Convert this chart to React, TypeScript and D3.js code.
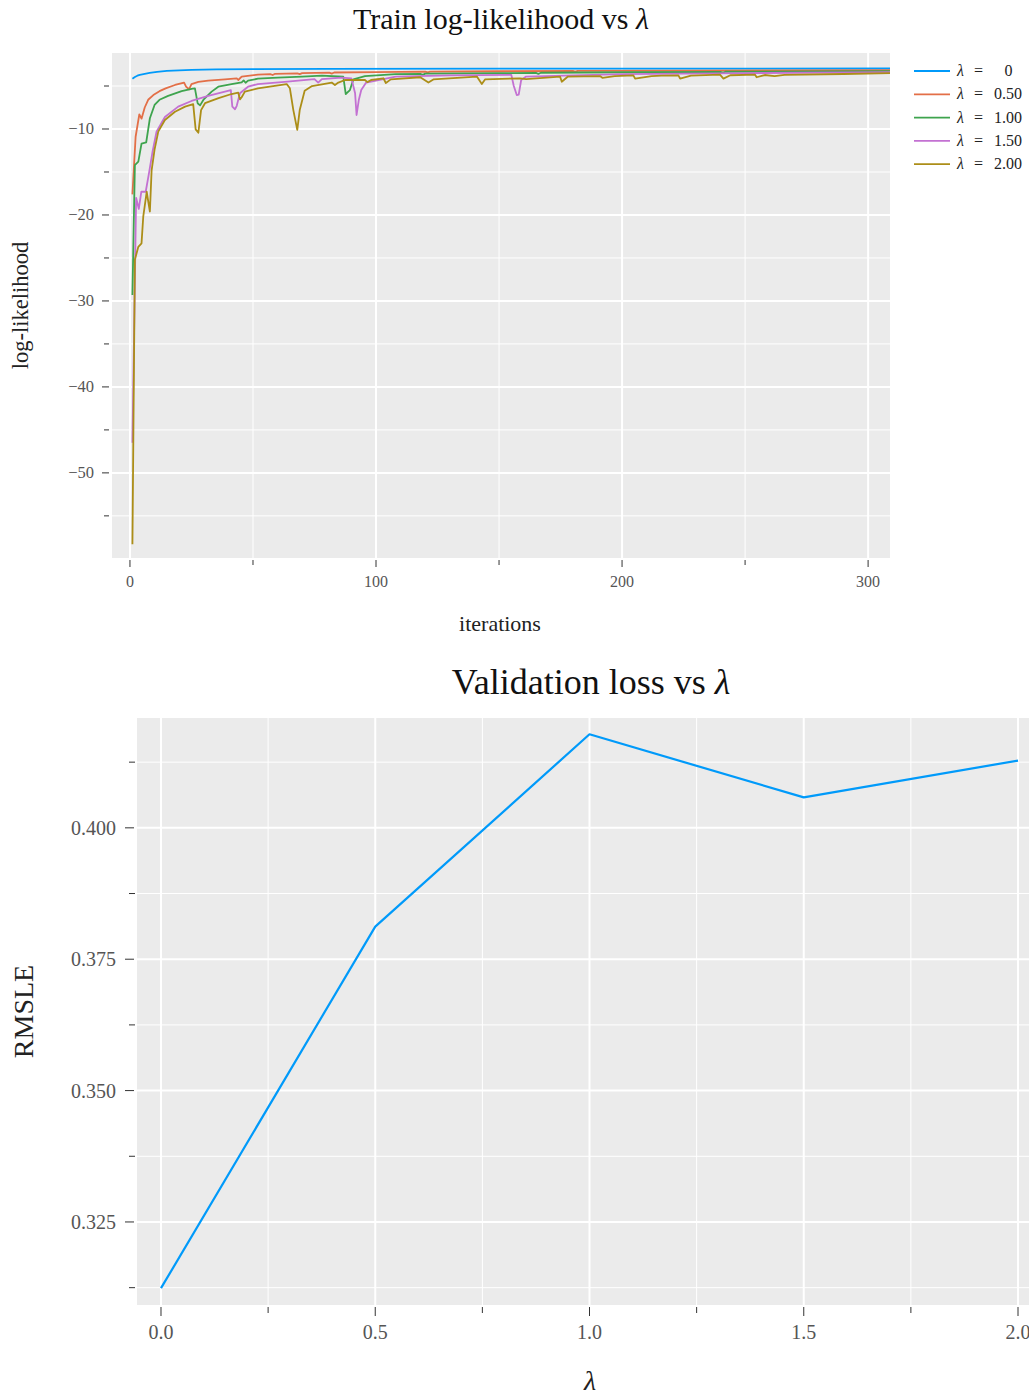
import React from "react";
import * as d3 from "d3";

// ---- Train log-likelihood per iteration, one vertex list per lambda ----
const trainLambda0: [number, number][] = [
  [1, -4.15], [2, -3.95], [3, -3.8], [4, -3.7], [6, -3.58], [8, -3.47], [11, -3.35],
  [15, -3.25], [20, -3.18], [25, -3.13], [35, -3.07], [50, -3.03], [80, -3.0],
  [150, -2.98], [309, -2.96],
];

const trainLambda050: [number, number][] = [
  [1, -17.6], [2.3, -10.9], [3.8, -8.3], [4.7, -8.8], [6, -7.5], [7.4, -6.6], [9.5, -6.05],
  [12, -5.6], [14.5, -5.27], [18.3, -4.88], [22, -4.6], [22.8, -5.07], [24, -5.38],
  [25, -4.77], [27.8, -4.53], [31.8, -4.38], [38.6, -4.23], [43.4, -4.1], [44, -4.3],
  [45.4, -3.9], [52, -3.68], [57, -3.62], [58, -3.72], [59, -3.58], [68, -3.52],
  [69, -3.62], [70, -3.5], [81, -3.45], [82, -3.56], [83, -3.43], [100, -3.38],
  [120, -3.33], [121, -3.42], [122, -3.32], [150, -3.28], [180, -3.24], [181, -3.33],
  [182, -3.23], [230, -3.2], [260, -3.17], [309, -3.15],
];

const trainLambda100: [number, number][] = [
  [1, -29.3], [2, -14.2], [3.4, -13.8], [4.7, -11.7], [6.6, -11.55], [8.1, -8.75],
  [10, -7.2], [12, -6.6], [15.5, -6.15], [21, -5.6], [25.5, -5.3], [26.4, -5.27],
  [27.5, -7.0], [28.5, -7.25], [30, -6.55], [33.2, -5.65], [35.9, -5.08], [41.3, -4.78],
  [45.4, -4.57], [46.2, -4.35], [47, -4.62], [48, -4.38], [52, -4.15], [60, -4.03],
  [70, -3.9], [78, -3.78], [86.7, -3.92], [87.7, -5.93], [89.4, -5.47], [90.8, -4.23],
  [95.5, -3.85], [108, -3.62], [118, -3.58], [119, -3.7], [120, -3.56], [150, -3.5],
  [165, -3.47], [166, -3.58], [167, -3.46], [200, -3.4], [240, -3.35], [241, -3.44],
  [242, -3.34], [309, -3.27],
];

const trainLambda150: [number, number][] = [
  [1, -46.5], [2.5, -18.0], [3.6, -19.3], [4.6, -17.3], [6.4, -17.3], [7.7, -15.2],
  [9.2, -12.6], [10.8, -10.3], [14.2, -8.6], [19.6, -7.4], [25, -6.74], [31.8, -6.16],
  [38.6, -5.65], [41, -5.47], [41.6, -7.4], [42.7, -7.7], [43.4, -7.3], [44.7, -5.85],
  [48, -5.08], [52, -4.77], [64, -4.5], [75, -4.2], [76.5, -4.6], [78, -4.2], [86, -4.03],
  [90, -4.1], [91.5, -5.85], [92.1, -8.37], [93, -6.63], [94, -5.47], [96, -4.6],
  [108, -3.9], [130, -3.77], [155, -3.7], [156, -5.0], [157.2, -6.05], [158, -6.0],
  [159, -4.3], [161, -3.9], [200, -3.62], [250, -3.5], [309, -3.38],
];

const trainLambda200: [number, number][] = [
  [1, -58.3], [2, -25.2], [3.4, -23.7], [4.7, -23.3], [5.4, -20.2], [6.8, -17.3],
  [8.1, -19.6], [8.8, -14.8], [10, -12.4], [11.5, -10.3], [14.2, -8.95], [18.3, -8.0],
  [22.4, -7.4], [25.7, -7.1], [26.7, -10.04], [27.8, -10.43], [28.9, -7.8], [30.5, -7.0],
  [36, -6.4], [41.3, -5.93], [44, -5.77], [44.7, -6.55], [45.4, -6.3], [46.7, -5.65],
  [52, -5.27], [63.7, -4.77], [65, -5.27], [66.4, -7.8], [68, -10.1], [69, -7.8],
  [71, -5.55], [74, -5.0], [82, -4.6], [83.3, -4.88], [84.7, -4.6], [87.4, -4.3],
  [95.5, -4.3], [96.5, -4.55], [98, -4.3], [103, -4.1], [104, -4.65], [106, -4.23],
  [118, -3.98], [121.3, -4.6], [123.3, -4.23], [141, -3.9], [143, -4.77], [144.3, -4.23],
  [158.5, -4.1], [161, -4.2], [174.8, -3.9], [175.5, -4.5], [178, -3.9], [191, -3.84],
  [192, -4.05], [197, -3.84], [204.6, -3.76], [205.3, -4.14], [212, -3.85], [216, -3.8],
  [222.9, -3.76], [223.6, -4.14], [228, -3.8], [239.8, -3.67], [241.2, -4.14],
  [244, -3.75], [254, -3.67], [254.7, -3.98], [258, -3.72], [262, -3.85], [266, -3.7],
  [290, -3.6], [309, -3.5],
];

const trainSeries = [
  { label: "0", data: trainLambda0, color: "#009AFA" },
  { label: "0.50", data: trainLambda050, color: "#E36F47" },
  { label: "1.00", data: trainLambda100, color: "#3EA44E" },
  { label: "1.50", data: trainLambda150, color: "#C371D2" },
  { label: "2.00", data: trainLambda200, color: "#AC8E18" },
];

const trainXMajor = [0, 100, 200, 300];
const trainXMinor = [50, 150, 250];
const trainYMajor = [-10, -20, -30, -40, -50];
const trainYMinor = [-5, -15, -25, -35, -45, -55];

// ---- Validation RMSLE per lambda ----
const lambdas = [0, 0.5, 1.0, 1.5, 2.0];
const rmsle = [0.3124, 0.3812, 0.4178, 0.4058, 0.4128];

const valXMajor = [0, 0.5, 1.0, 1.5, 2.0];
const valXMinor = [0.25, 0.75, 1.25, 1.75];
const valYMajor = [0.325, 0.35, 0.375, 0.4];
const valYMinor = [0.3125, 0.3375, 0.3625, 0.3875, 0.4125];

const FONT = "'Liberation Serif', 'DejaVu Serif', serif";
const PANEL_BG = "#EBEBEB";
const TICK_TEXT = "#555555";
const TICK_MARK = "#333333";

function fmtMinus(v: number) {
  return v < 0 ? "\u2212" + Math.abs(v) : String(v);
}

function TrainChart() {
  const left = 112, right = 890, top = 53, bottom = 558;
  const x = d3.scaleLinear().domain([-7.3, 308.9]).range([left, right]);
  const y = d3.scaleLinear().domain([-59.9, -1.16]).range([bottom, top]);
  const line = d3
    .line<[number, number]>()
    .x((d) => x(d[0]))
    .y((d) => y(d[1]));

  return (
    <g>
      <text x={501} y={29} textAnchor="middle" fontSize={30} fontFamily={FONT} fill="#111">
        Train log-likelihood vs <tspan fontStyle="italic">λ</tspan>
      </text>
      <defs>
        <clipPath id="trainClip">
          <rect x={left} y={top} width={right - left} height={bottom - top} />
        </clipPath>
      </defs>
      <rect x={left} y={top} width={right - left} height={bottom - top} fill={PANEL_BG} />
      {trainXMinor.map((t) => (
        <line key={"xm" + t} x1={x(t)} x2={x(t)} y1={top} y2={bottom} stroke="#fff" strokeWidth={1} />
      ))}
      {trainYMinor.map((t) => (
        <line key={"ym" + t} x1={left} x2={right} y1={y(t)} y2={y(t)} stroke="#fff" strokeWidth={1} />
      ))}
      {trainXMajor.map((t) => (
        <line key={"xM" + t} x1={x(t)} x2={x(t)} y1={top} y2={bottom} stroke="#fff" strokeWidth={2} />
      ))}
      {trainYMajor.map((t) => (
        <line key={"yM" + t} x1={left} x2={right} y1={y(t)} y2={y(t)} stroke="#fff" strokeWidth={2} />
      ))}
      <g clipPath="url(#trainClip)">
        {trainSeries.map((s) => (
          <path key={s.label} d={line(s.data) || ""} fill="none" stroke={s.color} strokeWidth={1.8} strokeLinejoin="round" />
        ))}
      </g>
      {/* axis ticks */}
      {trainXMajor.map((t) => (
        <g key={"xt" + t}>
          <line x1={x(t)} x2={x(t)} y1={bottom + 2} y2={bottom + 9} stroke={TICK_MARK} strokeWidth={1} />
          <text x={x(t)} y={587} textAnchor="middle" fontSize={16} fontFamily={FONT} fill={TICK_TEXT}>
            {t}
          </text>
        </g>
      ))}
      {trainXMinor.map((t) => (
        <line key={"xtm" + t} x1={x(t)} x2={x(t)} y1={bottom + 2} y2={bottom + 7} stroke={TICK_MARK} strokeWidth={1} />
      ))}
      {trainYMajor.map((t) => (
        <g key={"yt" + t}>
          <line x1={left - 10} x2={left - 3} y1={y(t)} y2={y(t)} stroke={TICK_MARK} strokeWidth={1} />
          <text x={94} y={y(t) + 5} textAnchor="end" fontSize={16.5} fontFamily={FONT} fill={TICK_TEXT}>
            {fmtMinus(t)}
          </text>
        </g>
      ))}
      {trainYMinor.map((t) => (
        <line key={"ytm" + t} x1={left - 8} x2={left - 3} y1={y(t)} y2={y(t)} stroke={TICK_MARK} strokeWidth={1} />
      ))}
      <text x={500} y={631} textAnchor="middle" fontSize={22} fontFamily={FONT} fill="#222">
        iterations
      </text>
      <text
        transform={`translate(28, ${(top + bottom) / 2}) rotate(-90)`}
        textAnchor="middle"
        fontSize={22.5}
        fontFamily={FONT}
        fill="#222"
      >
        log-likelihood
      </text>
      {/* legend */}
      {trainSeries.map((s, i) => {
        const ly = 71 + i * 23.3;
        return (
          <g key={"lg" + s.label}>
            <line x1={914} x2={950} y1={ly} y2={ly} stroke={s.color} strokeWidth={1.8} />
            <text x={957} y={ly + 5} fontSize={16} fontFamily={FONT} fontStyle="italic" fill="#222">
              λ
            </text>
            <text x={978.5} y={ly + 5} textAnchor="middle" fontSize={16} fontFamily={FONT} fill="#222">
              =
            </text>
            <text
              x={s.label === "0" ? 1008.5 : 1022}
              y={ly + 5}
              textAnchor={s.label === "0" ? "middle" : "end"}
              fontSize={16}
              fontFamily={FONT}
              fill="#222"
            >
              {s.label}
            </text>
          </g>
        );
      })}
    </g>
  );
}

function ValidationChart() {
  const left = 137, right = 1042, top = 718, bottom = 1305;
  const x = d3.scaleLinear().domain([-0.056, 2.056]).range([left, right]);
  const y = d3.scaleLinear().domain([0.3092, 0.4209]).range([bottom, top]);
  const pts: [number, number][] = lambdas.map((l, i) => [l, rmsle[i]]);
  const line = d3
    .line<[number, number]>()
    .x((d) => x(d[0]))
    .y((d) => y(d[1]));

  return (
    <g>
      <text x={591} y={694} textAnchor="middle" fontSize={36} fontFamily={FONT} fill="#111">
        Validation loss vs <tspan fontStyle="italic">λ</tspan>
      </text>
      <rect x={left} y={top} width={right - left} height={bottom - top} fill={PANEL_BG} />
      {valXMinor.map((t) => (
        <line key={"xm" + t} x1={x(t)} x2={x(t)} y1={top} y2={bottom} stroke="#fff" strokeWidth={1} />
      ))}
      {valYMinor.map((t) => (
        <line key={"ym" + t} x1={left} x2={right} y1={y(t)} y2={y(t)} stroke="#fff" strokeWidth={1} />
      ))}
      {valXMajor.map((t) => (
        <line key={"xM" + t} x1={x(t)} x2={x(t)} y1={top} y2={bottom} stroke="#fff" strokeWidth={2} />
      ))}
      {valYMajor.map((t) => (
        <line key={"yM" + t} x1={left} x2={right} y1={y(t)} y2={y(t)} stroke="#fff" strokeWidth={2} />
      ))}
      <path d={line(pts) || ""} fill="none" stroke="#009AFA" strokeWidth={2.2} strokeLinejoin="round" />
      {valXMajor.map((t) => (
        <g key={"xt" + t}>
          <line x1={x(t)} x2={x(t)} y1={bottom + 2} y2={bottom + 11} stroke={TICK_MARK} strokeWidth={1} />
          <text x={x(t)} y={1339} textAnchor="middle" fontSize={20} fontFamily={FONT} fill={TICK_TEXT}>
            {t.toFixed(1)}
          </text>
        </g>
      ))}
      {valXMinor.map((t) => (
        <line key={"xtm" + t} x1={x(t)} x2={x(t)} y1={bottom + 2} y2={bottom + 8} stroke={TICK_MARK} strokeWidth={1} />
      ))}
      {valYMajor.map((t) => (
        <g key={"yt" + t}>
          <line x1={left - 12} x2={left - 3} y1={y(t)} y2={y(t)} stroke={TICK_MARK} strokeWidth={1} />
          <text x={116} y={y(t) + 7} textAnchor="end" fontSize={20} fontFamily={FONT} fill={TICK_TEXT}>
            {t.toFixed(3)}
          </text>
        </g>
      ))}
      {valYMinor.map((t) => (
        <line key={"ytm" + t} x1={left - 8} x2={left - 2} y1={y(t)} y2={y(t)} stroke={TICK_MARK} strokeWidth={1} />
      ))}
      <text x={590} y={1390} textAnchor="middle" fontSize={28} fontFamily={FONT} fontStyle="italic" fill="#222">
        λ
      </text>
      <text
        transform={`translate(33, ${(top + bottom) / 2}) rotate(-90)`}
        textAnchor="middle"
        fontSize={28}
        fontFamily={FONT}
        fill="#222"
      >
        RMSLE
      </text>
    </g>
  );
}

export default function App() {
  return (
    <svg
      width={1029}
      height={1399}
      viewBox="0 0 1029 1399"
      style={{ position: "absolute", left: 0, top: 0, background: "#fff" }}
    >
      <rect x={0} y={0} width={1029} height={1399} fill="#fff" />
      <TrainChart />
      <ValidationChart />
    </svg>
  );
}
